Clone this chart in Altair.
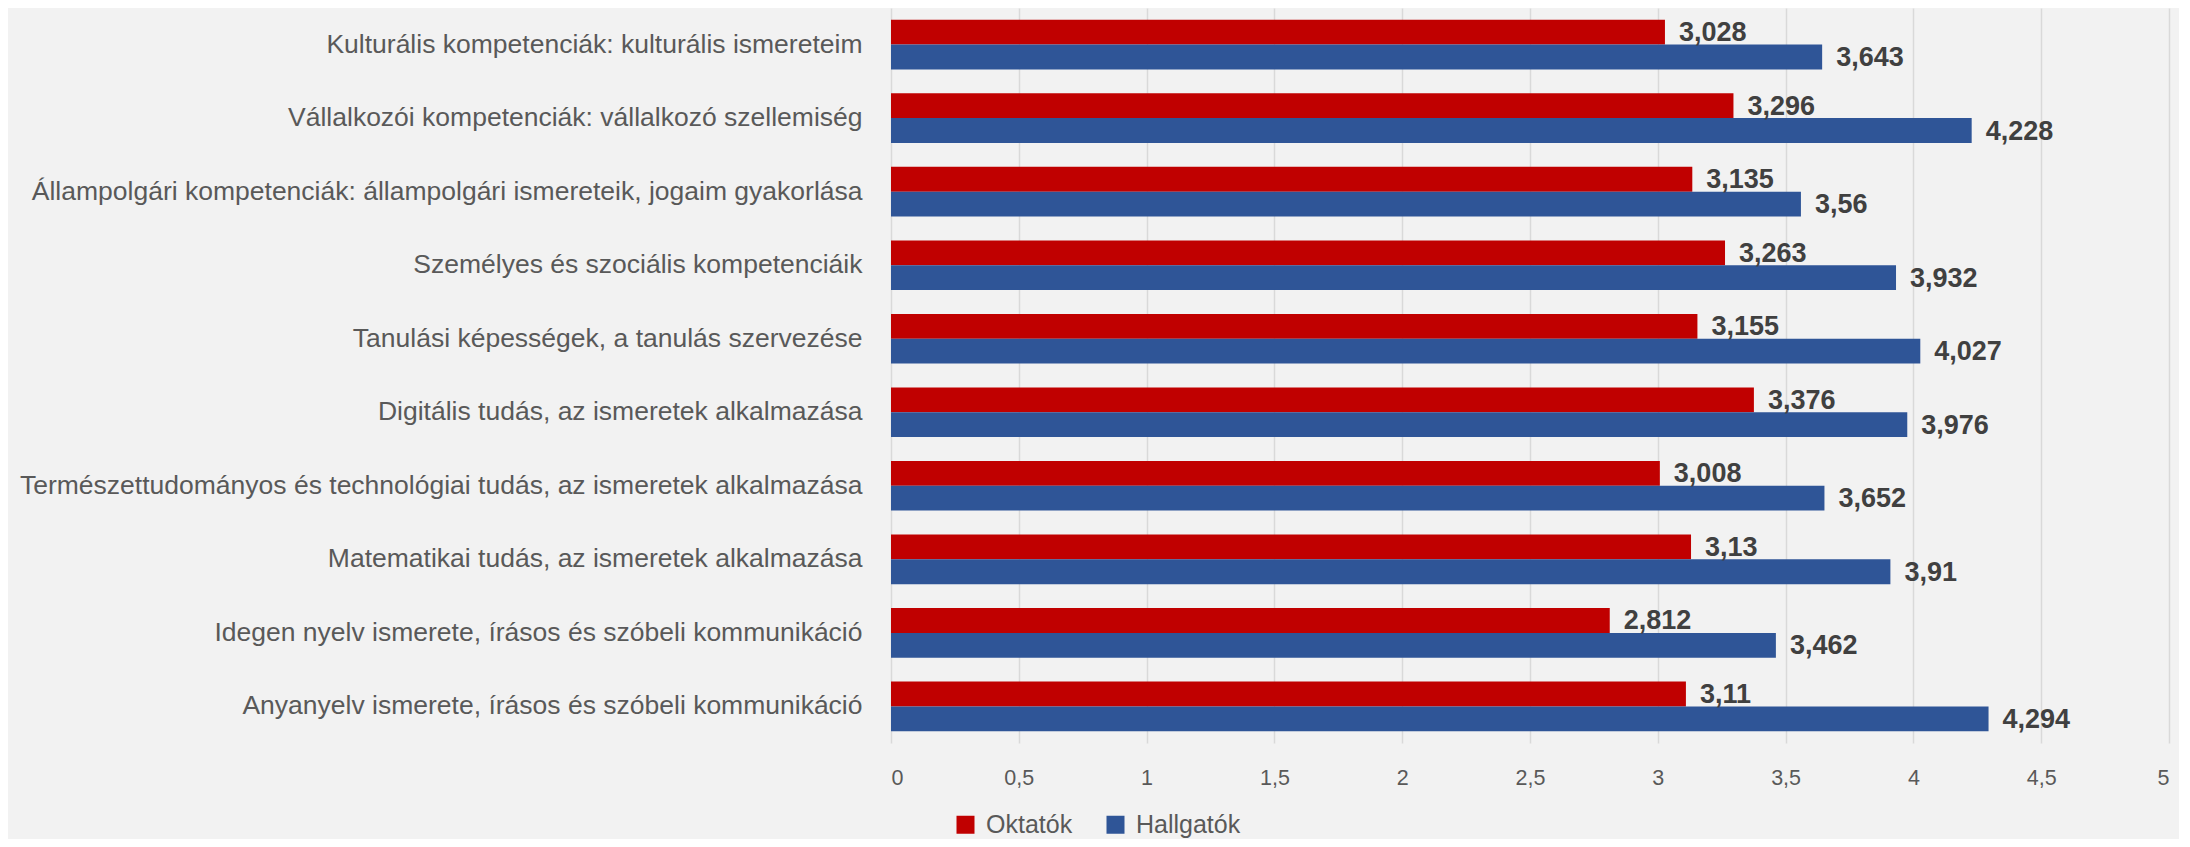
import altair as alt
import pandas as pd

categories = [
    "Kulturális kompetenciák: kulturális ismereteim",
    "Vállalkozói kompetenciák: vállalkozó szellemiség",
    "Állampolgári kompetenciák: állampolgári ismereteik, jogaim gyakorlása",
    "Személyes és szociális kompetenciáik",
    "Tanulási képességek, a tanulás szervezése",
    "Digitális tudás, az ismeretek alkalmazása",
    "Természettudományos és technológiai tudás, az ismeretek alkalmazása",
    "Matematikai tudás, az ismeretek alkalmazása",
    "Idegen nyelv ismerete, írásos és szóbeli kommunikáció",
    "Anyanyelv ismerete, írásos és szóbeli kommunikáció",
]
oktatok = [3.028, 3.296, 3.135, 3.263, 3.155, 3.376, 3.008, 3.13, 2.812, 3.11]
hallgatok = [3.643, 4.228, 3.56, 3.932, 4.027, 3.976, 3.652, 3.91, 3.462, 4.294]
series = ["Oktatók", "Hallgatók"]
colors = ["#C00000", "#2F5597"]
tick_values = [0, 0.5, 1, 1.5, 2, 2.5, 3, 3.5, 4, 4.5, 5]

rows = []
for c, o, h in zip(categories, oktatok, hallgatok):
    for s, v in zip(series, [o, h]):
        rows.append({"cat": c, "series": s, "value": v,
                     "label": str(v).replace(".", ",")})
df = pd.DataFrame(rows)

FONT = "Liberation Sans"

y = alt.Y("cat:N", sort=categories, title=None,
          scale=alt.Scale(paddingInner=0.325, paddingOuter=0.16),
          axis=alt.Axis(labelFontSize=26.5, labelColor="#595959", labelFont=FONT,
                        labelPadding=29, ticks=False, domain=False, labelLimit=1000))
yoff = alt.YOffset("series:N", sort=series)

bars = alt.Chart(df).mark_bar().encode(
    x=alt.X("value:Q", title=None,
            scale=alt.Scale(domain=[0, 5], nice=False),
            axis=alt.Axis(values=tick_values,
                          labelExpr="replace(toString(datum.value), '.', ',')",
                          labelFontSize=21.5, labelColor="#595959", labelFont=FONT,
                          labelPadding=24, ticks=False, domain=False,
                          grid=True, gridColor="#D9D9D9", gridWidth=1.5)),
    y=y,
    yOffset=yoff,
    color=alt.Color("series:N", sort=series,
                    scale=alt.Scale(domain=series, range=colors),
                    legend=alt.Legend(title=None, orient="none", direction="horizontal",
                                      legendX=62, legendY=804,
                                      symbolType="square", symbolSize=324,
                                      symbolStrokeWidth=0,
                                      labelFontSize=25, labelColor="#595959",
                                      labelFont=FONT, columnPadding=30,
                                      labelOffset=8)),
)

text = alt.Chart(df).mark_text(align="left", baseline="middle", dx=14, dy=1,
                               fontSize=27, fontWeight="bold", color="#404040",
                               font=FONT).encode(
    x="value:Q",
    y=alt.Y("cat:N", sort=categories),
    yOffset=yoff,
    text="label:N",
)

chart = (bars + text).properties(
    width=1278, height=735,
    autosize=alt.AutoSizeParams(type="none"),
    padding={"left": 883, "top": 0, "right": 10, "bottom": 96},
    background="#F2F2F2",
).configure_view(stroke=None)

chart.save("out.html", embed_options={"renderer": "svg", "actions": False})
